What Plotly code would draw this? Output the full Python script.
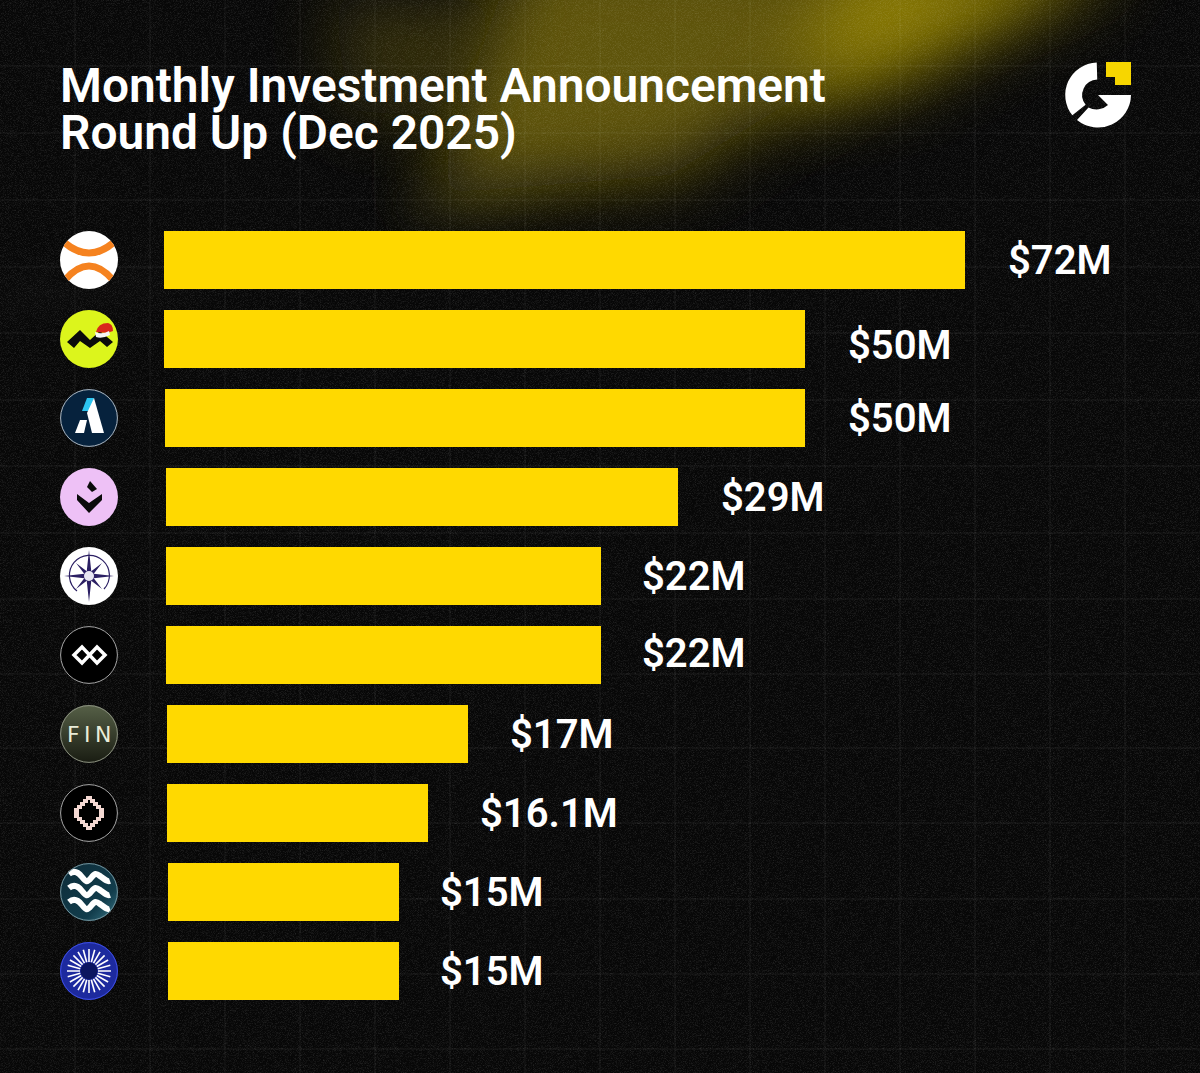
import base64
import math
import plotly.graph_objects as go

W, H = 1200, 1073

# the logos carry no names in the picture, so rows are named after the logo
companies = ["Orange arcs", "Lime peaks", "Navy A", "Pink drop", "Compass", "Infinity", "FIN", "Pixel ring", "Waves", "Blue sun"]
amounts = [72, 50, 50, 29, 22, 22, 17, 16.1, 15, 15]
amount_labels = ["$72M", "$50M", "$50M", "$29M", "$22M", "$22M", "$17M", "$16.1M", "$15M", "$15M"]
# drawn length does not follow the amount in the original, so it is read separately
bar_starts = [164, 164, 165, 166, 166, 166, 167, 167, 168, 168]
bar_lengths = [801, 641, 640, 512, 435, 435, 301, 261, 231, 231]

label_gaps = [41, 41, 41, 41, 39, 39, 40, 50, 39, 39]
label_shifts = [0, -6, 0, 0, 0, 2, 0, 0, 0, 0]

grid_x = [75, 150, 225, 300, 375, 450, 525, 600, 675, 750, 825, 900, 975, 1050, 1125]
grid_y = [66, 133, 200, 267, 333, 400, 466, 533, 599, 674, 748, 823, 899, 974, 1049]

ROW_TOP, ROW_H = 220.5, 79
LOGO_X, LOGO_SIZE = 60, 58


def uri(svg):
    return "data:image/svg+xml;base64," + base64.b64encode(svg.encode()).decode()


# background: glow, faint grid and grain
lines = "".join(f'<line x1="{x}" y1="0" x2="{x}" y2="{H}"/>' for x in grid_x)
lines += "".join(f'<line x1="0" y1="{y}" x2="{W}" y2="{y}"/>' for y in grid_y)
background = f'''<svg xmlns="http://www.w3.org/2000/svg" width="{W}" height="{H}" viewBox="0 0 {W} {H}">
<defs>
<filter id="b1" x="-50%" y="-50%" width="200%" height="200%"><feGaussianBlur stdDeviation="34"/></filter>
<filter id="b2" x="-50%" y="-50%" width="200%" height="200%"><feGaussianBlur stdDeviation="20"/></filter>
<filter id="n" x="0" y="0" width="100%" height="100%"><feTurbulence type="fractalNoise" baseFrequency="1.4" numOctaves="1" seed="7"/>
<feColorMatrix values="0 0 0 0 1  0 0 0 0 1  0 0 0 0 1  1.6 0 0 0 -0.72"/></filter>
</defs>
<rect width="{W}" height="{H}" fill="#070707"/>
<polygon points="520,-60 1120,-60 860,60 670,175 430,195" fill="#84740a" opacity="0.7" filter="url(#b1)"/>
<polygon points="860,-40 1130,-40 900,85 770,110" fill="#a08e06" opacity="0.72" filter="url(#b1)"/>
<polygon points="330,0 520,0 430,120 350,110" fill="#6b5e08" opacity="0.42" filter="url(#b1)"/>
<polygon points="420,190 620,165 480,215 400,220" fill="#5c5620" opacity="0.25" filter="url(#b2)"/>
<polygon points="0,292 230,268 240,276 0,305" fill="#ffffff" opacity="0.05" filter="url(#b2)"/>
<g stroke="#ffffff" stroke-opacity="0.075" stroke-width="1">{lines}</g>
<rect width="{W}" height="{H}" filter="url(#n)" opacity="0.2"/>
</svg>'''


def logo(body, fill, border=None, defs=""):
    edge = f'<circle cx="29" cy="29" r="28.4" fill="none" stroke="{border}" stroke-width="1"/>' if border else ""
    return uri(
        f'<svg xmlns="http://www.w3.org/2000/svg" width="174" height="174" viewBox="0 0 58 58"><defs>{defs}'
        f'<clipPath id="c"><circle cx="29" cy="29" r="29"/></clipPath></defs>'
        f'<circle cx="29" cy="29" r="29" fill="{fill}"/><g clip-path="url(#c)">{body}</g>{edge}</svg>'
    )


rays = "".join(
    f'<line x1="{29 + 9 * math.cos(a):.1f}" y1="{29 + 9 * math.sin(a):.1f}" '
    f'x2="{29 + 22 * math.cos(a):.1f}" y2="{29 + 22 * math.sin(a):.1f}"/>'
    for a in [i * 2 * math.pi / 24 for i in range(24)]
)


def wave(y):
    return f"M9 {y - 4} C14 {y - 8} 18 {y - 6} 22 {y - 1} S27 {y + 5} 31 {y} S36 {y - 5} 40 {y - 2} S47 {y + 4} 50 {y + 3}"


logos = [
    logo('<path d="M5 12 Q29 32 53 12" fill="none" stroke="#f5821f" stroke-width="7"/>'
         '<path d="M5 49 Q29 21 53 49" fill="none" stroke="#f5821f" stroke-width="7"/>', "#ffffff"),
    logo('<path d="M7 32 L20 20 L30 30 L40 21 L53 32 L47 37 L40 31 L30 38 L20 31 L14 38 Z" fill="#0b0b0b"/>'
         '<path d="M36 22 Q38 13 48 13 Q53 14 53 21 L47 23 Z" fill="#d9271c"/>'
         '<path d="M35 22 Q42 25 49 21 L50 25 Q42 29 36 27 Z" fill="#f5f5f5"/>', "#dcf51c"),
    logo('<polygon points="27,9 34,9 30,22 22,22" fill="#2cc4f0"/>'
         '<polygon points="34,9 44,44 32,44 27,24" fill="#ffffff"/>'
         '<polygon points="20,31 27,31 24,44 15,44" fill="#ffffff"/>', "#06223d", "#aeb6bd"),
    logo('<path d="M17 26 L29 35 L42 26 L42 32 L29 45 L17 32 Z" fill="#0b0b0b"/>'
         '<path d="M30 13 L37 21 L32 24 L27 19 Z" fill="#0b0b0b"/>', "#eec1f6"),
    logo('<path d="M17 44 A20 20 0 1 1 44 42" fill="none" stroke="#2b1f63" stroke-width="1.2"/>'
         '<polygon points="29,3 31.5,26.5 54,29 31.5,31.5 29,55 26.5,31.5 4,29 26.5,26.5" fill="#2b1f63"/>'
         '<polygon points="16,16 29,26 42,16 32,29 42,42 29,32 16,42 26,29" fill="#2b1f63"/>'
         '<circle cx="29" cy="29" r="5" fill="#e8e6f2"/>', "#ffffff"),
    logo('<path d="M14 29 L22 21 L29.5 29 L37 21 L45 29 L37 37 L29.5 29 L22 37 Z" fill="none" stroke="#ffffff" stroke-width="3.5"/>',
         "#000000", "#a8a8a8"),
    logo("", "url(#f)", "#8b9080",
         '<linearGradient id="f" x1="0" y1="0" x2="0" y2="1"><stop offset="0" stop-color="#566047"/>'
         '<stop offset="1" stop-color="#191c12"/></linearGradient>'),
    logo('<path d="M26 12 h6 v3 h3 v3 h3 v3 h3 v3 h3 v10 h-3 v3 h-3 v3 h-3 v3 h-3 v3 h-6 v-3 h-3 v-3 h-3 v-3 h-3 v-3 h-3 v-10 h3 v-3 h3 v-3 h3 v-3 h3 Z '
         'M28 16 h2 v3 h3 v3 h3 v3 h3 v8 h-3 v3 h-3 v3 h-3 v3 h-2 v-3 h-3 v-3 h-3 v-3 h-3 v-8 h3 v-3 h3 v-3 h3 Z" '
         'fill="#f4d9d3" fill-rule="evenodd"/>', "#000000", "#a8a8a8"),
    logo(f'<g fill="none" stroke="#ffffff" stroke-width="6"><path d="{wave(15)}"/><path d="{wave(29)}"/>'
         f'<path d="{wave(43)}"/></g>', "url(#w)", "#74939c",
         '<linearGradient id="w" x1="0" y1="0" x2="1" y2="1"><stop offset="0" stop-color="#0d2b38"/>'
         '<stop offset="0.7" stop-color="#123d4c"/><stop offset="1" stop-color="#3b7a8a"/></linearGradient>'),
    logo(f'<g stroke="#ffffff" stroke-width="1.6">{rays}</g><circle cx="29" cy="29" r="8.5" fill="#0b1560"/>',
         "#1d2a9e", "#3f50e6"),
]

brand = uri(
    '<svg xmlns="http://www.w3.org/2000/svg" width="228" height="228" viewBox="0 0 76 76">'
    '<path d="M37 11 A24 24 0 0 0 19 50" fill="none" stroke="#ffffff" stroke-width="17"/>'
    '<path d="M38 35 L71 35 A33 33 0 0 1 17 60 L28.5 47.5 A17 17 0 0 0 48 45 Z" fill="#ffffff"/>'
    '<polygon points="46,2 71,2 71,25 55,25 55,17 46,17" fill="#f7d600"/></svg>'
)


def row_center(i):
    return ROW_TOP + ROW_H * (i + 0.5)


images = [dict(source=uri(background), xref="paper", yref="paper", x=0, y=1, sizex=1, sizey=1,
               xanchor="left", yanchor="top", layer="below", sizing="stretch")]
for i, src in enumerate(logos):
    images.append(dict(source=src, xref="x", yref="paper", x=LOGO_X, y=1 - row_center(i) / H,
                       sizex=LOGO_SIZE, sizey=LOGO_SIZE / H, xanchor="left", yanchor="middle", layer="above"))
images.append(dict(source=brand, xref="x", yref="paper", x=1060, y=1 - 60 / H, sizex=76, sizey=76 / H,
                   xanchor="left", yanchor="top", layer="above"))

fig = go.Figure(go.Bar(
    y=companies,
    x=bar_lengths,
    base=bar_starts,
    orientation="h",
    marker=dict(color="#ffd900", line_width=0),
    customdata=amounts,
    hoverinfo="skip",
))

annotations = [
    dict(text="Monthly Investment Announcement", xref="x", yref="paper", x=58, y=1 - 86 / H,
         showarrow=False, xanchor="left", yanchor="middle",
         font=dict(family="Roboto", size=47.9, color="#ffffff", weight=600)),
    dict(text="Round Up (Dec 2025)", xref="x", yref="paper", x=58, y=1 - 133 / H,
         showarrow=False, xanchor="left", yanchor="middle",
         font=dict(family="Roboto", size=47.9, color="#ffffff", weight=600)),
    dict(text="F\u2009I\u2009N", xref="x", yref="y", x=89, y=companies[6], showarrow=False,
         font=dict(family="DejaVu Sans", size=22, color="#e9edd9")),
]
for i, label in enumerate(amount_labels):
    annotations.append(dict(
        text=label, xref="x", yref="y", x=bar_starts[i] + bar_lengths[i], y=companies[i],
        xshift=label_gaps[i], yshift=label_shifts[i], showarrow=False, xanchor="left", yanchor="middle",
        font=dict(family="Roboto", size=40, color="#ffffff", weight=600),
    ))

fig.update_layout(
    width=W,
    height=H,
    margin=dict(l=0, r=0, t=0, b=0),
    paper_bgcolor="#070707",
    plot_bgcolor="rgba(0,0,0,0)",
    showlegend=False,
    bargap=21 / 79,
    images=images,
    annotations=annotations,
    xaxis=dict(range=[0, W], domain=[0, 1], visible=False, fixedrange=True),
    yaxis=dict(
        type="category",
        categoryorder="array",
        categoryarray=companies,
        autorange="reversed",
        domain=[1 - (ROW_TOP + ROW_H * 10) / H, 1 - ROW_TOP / H],
        visible=False,
        fixedrange=True,
    ),
)

fig.write_html(
    "out.html",
    config=dict(displayModeBar=False),
    post_script="document.body.style.margin='0';document.body.style.overflow='hidden';",
)
